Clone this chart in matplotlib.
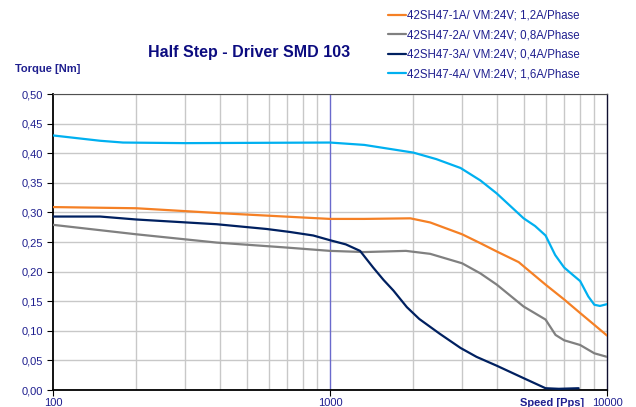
import matplotlib
matplotlib.use("Agg")
import matplotlib.pyplot as plt
from matplotlib.ticker import FixedLocator, NullFormatter, FuncFormatter

plt.rcParams['font.family'] = ['Liberation Sans', 'DejaVu Sans']

# Drehmomentkurven (Speed [Pps] -> Torque [Nm])
speed_1a = [100, 200, 390, 1000, 1330, 1950, 2300, 3000, 3490, 4000, 4800, 5000,
            6000, 7000, 8000, 9000, 10000]
torque_1a = [0.309, 0.307, 0.299, 0.289, 0.289, 0.290, 0.283, 0.263, 0.248, 0.234, 0.216, 0.209,
             0.178, 0.153, 0.130, 0.110, 0.092]

speed_2a = [100, 200, 390, 680, 1000, 1330, 1880, 2300, 3000, 3490, 4000, 5000,
            6000, 6520, 7000, 8000, 9000, 10000]
torque_2a = [0.279, 0.263, 0.249, 0.241, 0.235, 0.233, 0.235, 0.230, 0.214, 0.197, 0.178, 0.141,
             0.119, 0.093, 0.084, 0.076, 0.062, 0.056]

speed_3a = [100, 148, 200, 390, 590, 715, 870, 1000, 1140, 1284, 1431, 1560, 1694, 1894, 2100,
            2490, 2960, 3380, 4000, 5000, 6000, 6700, 7900]
torque_3a = [0.293, 0.293, 0.288, 0.280, 0.272, 0.267, 0.261, 0.253, 0.246, 0.235, 0.207, 0.186, 0.168, 0.140, 0.120,
             0.095, 0.071, 0.056, 0.041, 0.020, 0.003, 0.002, 0.003]

speed_4a = [100, 148, 179, 300, 1000, 1330, 2000, 2420, 2960, 3490, 4000, 5000, 5500,
            6000, 6500, 7000, 7500, 8000, 8560, 9000, 9430, 10000]
torque_4a = [0.430, 0.421, 0.418, 0.417, 0.418, 0.414, 0.401, 0.390, 0.375, 0.354, 0.332, 0.290, 0.277,
             0.261, 0.228, 0.207, 0.195, 0.184, 0.158, 0.144, 0.142, 0.145]

labels = ['42SH47-1A/ VM:24V; 1,2A/Phase',
          '42SH47-2A/ VM:24V; 0,8A/Phase',
          '42SH47-3A/ VM:24V; 0,4A/Phase',
          '42SH47-4A/ VM:24V; 1,6A/Phase']
colors = ['#f58025', '#808080', '#002060', '#00b0f0']

navy = '#1f1f8f'

fig = plt.figure(figsize=(6.36, 4.07), dpi=100)
ax = fig.add_axes([53 / 636, 1 - 390 / 407, 554 / 636, 296 / 407])

series = [(speed_1a, torque_1a), (speed_2a, torque_2a), (speed_3a, torque_3a), (speed_4a, torque_4a)]
lines = []
for (sx, sy), c, lab in zip(series, colors, labels):
    ln, = ax.plot(sx, sy, color=c, lw=1.6, label=lab, zorder=3,
                  solid_capstyle='round', solid_joinstyle='round')
    lines.append(ln)

ax.set_xscale('log')
ax.set_xlim(100, 10000)
ax.set_ylim(0, 0.5)

# Gitter
minor = [m * d for d in (100, 1000) for m in range(2, 10)]
ax.xaxis.set_major_locator(FixedLocator([100, 1000, 10000]))
ax.xaxis.set_minor_locator(FixedLocator(minor))
ax.xaxis.set_minor_formatter(NullFormatter())
ax.xaxis.set_major_formatter(FuncFormatter(lambda v, p: '%d' % v))
ax.yaxis.set_major_locator(FixedLocator([i * 0.05 for i in range(11)]))
ax.yaxis.set_major_formatter(FuncFormatter(lambda v, p: ('%.2f' % v).replace('.', ',')))

ax.grid(True, which='minor', axis='x', color='#c8c8c8', lw=1.0, zorder=1)
ax.grid(True, which='major', axis='y', color='#c8c8c8', lw=1.0, zorder=1)
ax.axvline(1000, color='#6a6acc', lw=1.0, zorder=2)

ax.tick_params(axis='x', which='minor', length=0)
ax.tick_params(axis='x', which='major', length=4, direction='out', colors='black',
               labelcolor=navy, labelsize=8, pad=2)
ax.tick_params(axis='y', length=4, direction='out', colors='black',
               labelcolor=navy, labelsize=8, pad=3)

for s in ['left', 'bottom']:
    ax.spines[s].set_color('black')
    ax.spines[s].set_linewidth(1.3)
ax.spines['right'].set_color('#101030')
ax.spines['right'].set_linewidth(1.0)
ax.spines['top'].set_color('#505050')
ax.spines['top'].set_linewidth(0.8)

fig.text(249 / 636, 1 - 52 / 407, 'Half Step - Driver SMD 103', ha='center', va='center',
         fontsize=11.5, fontweight='bold', color='#0c0c80')
fig.text(15 / 636, 1 - 69 / 407, 'Torque [Nm]', ha='left', va='center',
         fontsize=8, fontweight='bold', color=navy)
fig.text(552 / 636, 1 - 403 / 407, 'Speed [Pps]', ha='center', va='center',
         fontsize=8, fontweight='bold', color=navy)

leg = fig.legend(handles=lines, loc='upper left', bbox_to_anchor=(388 / 636, 1 - 10 / 407),
                 frameon=False, fontsize=8.3, handlelength=1.6, handletextpad=0.05,
                 labelspacing=0.65, borderaxespad=0, borderpad=0)
for t in leg.get_texts():
    t.set_color(navy)

fig.savefig('out.png', dpi=100)
